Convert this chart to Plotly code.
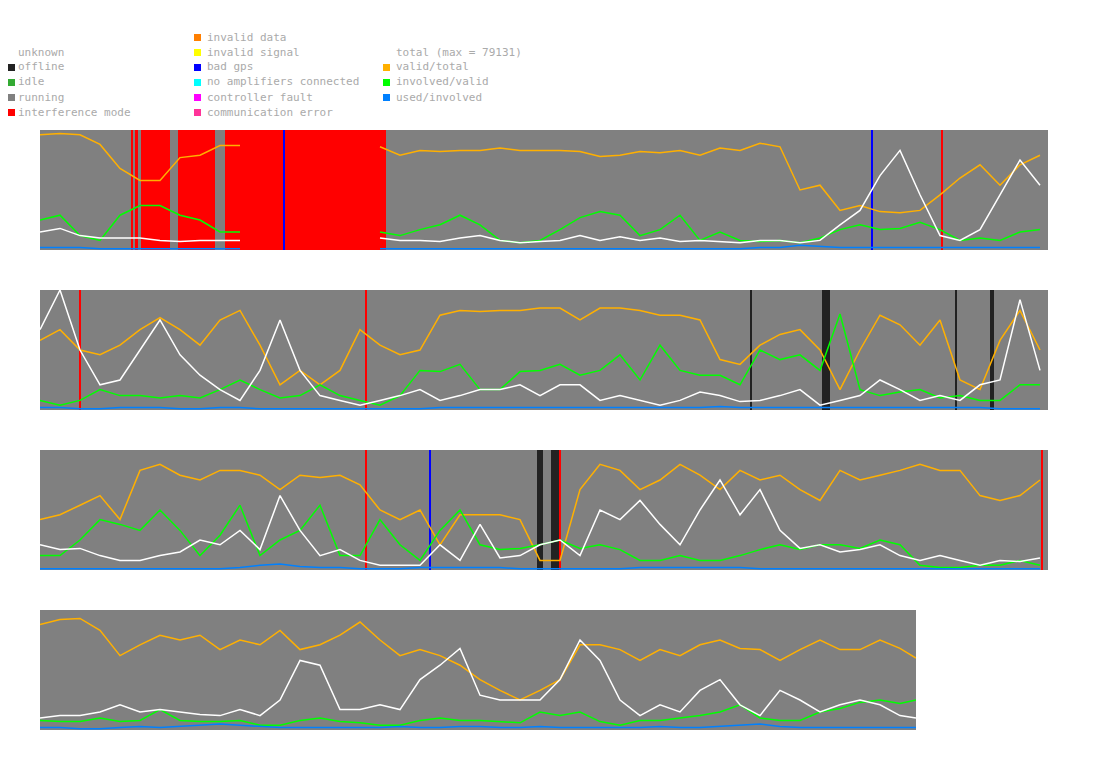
import plotly.graph_objects as go

N = None
# ---- data (time index per row, values in % of row height) ----
t_full = list(range(0, 1020, 20))          # rows 1-3: 51 samples
t_last = list(range(0, 880, 20)) + [876]   # row 4: 45 samples

row1_orange = [96,97,96,88,68,58,58,77,79,87,87,N,N,N,N,N,N,86,79,83,82,83,83,85,83,83,83,82,78,79,82,81,83,79,85,83,89,86,50,54,33,37,32,31,33,46,60,71,54,71,79]
row1_green  = [25,29,12,8,29,37,37,29,25,15,15,N,N,N,N,N,N,15,12,17,21,29,21,8,6,8,17,27,32,29,12,17,29,8,15,8,7,8,6,10,17,21,17,18,23,17,8,10,8,15,17]
row1_white  = [15,18,12,10,10,10,8,7,8,8,8,N,N,N,N,N,N,10,8,8,7,10,12,8,6,7,8,12,8,11,8,10,7,8,7,6,8,8,6,8,21,33,62,83,46,12,8,17,46,75,54]
row1_blue   = [2,2,2,1,1,1,1,1,1,1,1,N,N,N,N,N,N,1,1,1,1,1,1,1,1,1,1,1,1,1,1,1,1,1,1,1,2,2,4,3,2,2,2,2,2,2,2,2,2,2,2]

row2_orange = [58,67,50,46,54,67,77,67,54,75,83,54,21,33,21,33,67,54,46,50,79,83,82,83,83,85,85,75,85,85,83,79,79,75,42,38,54,63,67,50,17,50,79,71,54,75,25,17,58,83,50]
row2_white  = [67,100,50,21,25,50,75,46,29,17,8,33,75,33,12,8,4,8,12,17,8,12,17,17,21,12,21,21,8,12,8,4,8,15,12,7,8,12,17,4,8,12,25,17,8,12,8,21,25,92,33]
row2_green  = [8,4,8,17,12,12,10,12,10,17,25,17,10,12,21,12,8,4,12,33,32,38,17,17,32,33,38,29,33,46,25,54,33,29,29,21,50,42,46,33,80,17,12,15,17,10,12,8,8,21,21]
row2_blue   = [2,2,1,1,2,2,2,1,1,2,2,1,1,1,1,1,1,1,1,1,2,2,2,2,2,2,2,2,2,2,2,2,2,2,3,2,2,2,2,2,2,2,2,2,2,2,2,2,1,1,1]

row3_orange = [42,46,54,62,42,83,88,79,75,83,83,79,67,79,77,79,71,50,42,50,21,46,46,46,42,8,8,67,88,83,67,75,88,79,67,83,75,79,67,58,83,75,79,83,88,83,83,62,58,62,75]
row3_white  = [21,17,18,12,8,8,12,15,25,21,33,17,62,33,12,17,8,4,4,4,21,8,38,10,12,21,25,12,50,42,58,38,21,50,75,46,67,33,18,21,15,17,21,12,8,12,8,4,8,7,10]
row3_green  = [12,12,25,42,38,33,50,33,12,29,54,12,25,33,54,12,12,42,21,8,33,50,21,17,18,21,25,18,21,17,8,8,12,8,8,12,17,21,17,21,21,18,25,21,4,2,2,4,4,8,4]
row3_blue   = [1,1,1,1,1,1,1,1,1,1,2,4,5,3,2,2,1,1,1,2,2,2,2,2,1,1,1,1,1,1,2,2,2,2,2,2,1,1,1,1,1,1,1,1,1,1,1,1,1,1,1]

row4_orange = [88,92,93,83,62,71,79,75,79,67,75,71,83,67,71,79,90,75,62,67,62,54,42,33,25,33,42,71,71,67,58,67,62,71,75,68,67,58,67,75,67,67,75,68,60]
row4_white  = [10,12,12,15,21,15,17,15,13,12,17,12,25,58,54,17,17,21,17,42,54,68,29,25,25,25,42,75,58,25,12,21,15,33,42,21,12,33,25,15,21,25,21,12,10]
row4_green  = [8,7,7,10,7,8,17,8,7,7,8,4,4,8,10,7,6,4,4,8,10,8,8,7,6,15,12,15,7,4,8,8,10,12,15,21,10,8,8,15,18,23,25,22,25]
row4_blue   = [2,2,1,1,2,3,2,3,4,5,4,3,2,2,2,2,2,2,3,2,2,3,3,2,2,3,2,2,2,2,2,3,2,2,3,4,5,3,2,2,2,2,2,2,2]

# status intervals (time index ranges)
red_iv   = [[(91,93),(95,98),(101,130),(138,175),(185,346),(901,903)],
            [(39,41),(325,327)],
            [(325,327),(519,521),(1001,1003)],
            []]
black_iv = [[], [(710,712),(782,790),(915,917),(950,954)], [(497,503),(511,519)], []]
blue_iv  = [[(243,245),(831,833)], [], [(389,391)], []]

rows = [
    (t_full, row1_orange, row1_green, row1_white, row1_blue),
    (t_full, row2_orange, row2_green, row2_white, row2_blue),
    (t_full, row3_orange, row3_green, row3_white, row3_blue),
    (t_last, row4_orange, row4_green, row4_white, row4_blue),
]

OFF = 8  # page body margin
W, H = 1095 - 2 * OFF, 764 - 2 * OFF
ytops = [130, 290, 450, 610]
fig = go.Figure()
shapes = []
for i, (t, o, g, w, b) in enumerate(rows):
    ax = '' if i == 0 else str(i + 1)
    for vals, col in [(o, '#ffb000'), (g, '#00ff00'), (w, '#ffffff'), (b, '#0080ff')]:
        fig.add_trace(go.Scatter(x=t, y=vals, mode='lines', line=dict(color=col, width=1.5),
                                 xaxis='x' + ax, yaxis='y' + ax, showlegend=False, hoverinfo='skip'))
    xend = 876 if i == 3 else 1008
    top = ytops[i] - OFF
    fig.layout['xaxis' + ax] = dict(domain=[(40 - OFF) / W, (40 - OFF + xend) / W], range=[0, xend],
                                    visible=False, anchor='y' + ax)
    fig.layout['yaxis' + ax] = dict(domain=[1 - (top + 120) / H, 1 - top / H], range=[0, 100], visible=False,
                                    anchor='x' + ax)
    for ivs, col in [(red_iv[i], '#ff0000'), (black_iv[i], '#222222'), (blue_iv[i], '#0000ff')]:
        for a, bb in ivs:
            shapes.append(dict(type='rect', xref='x' + ax, yref='y' + ax + ' domain', x0=a, x1=bb, y0=0, y1=1,
                               fillcolor=col, line=dict(width=0), layer='below'))

legend_cols = [
    (18, [("unknown", None), ("offline", '#222222'), ("idle", '#33aa33'), ("running", '#808080'),
          ("interference mode", '#ff0000')], 52),
    (207, [("invalid data", '#ff7f00'), ("invalid signal", '#ffff00'), ("bad gps", '#0000ff'),
           ("no amplifiers connected", '#00ffff'), ("controller fault", '#ff00ff'),
           ("communication error", '#ff3399')], 37),
    (396, [("total (max = 79131)", None), ("valid/total", '#ffb000'), ("involved/valid", '#00ff00'),
           ("used/involved", '#0080ff')], 52),
]
annots = []
for x, items, y0 in legend_cols:
    for k, (txt, col) in enumerate(items):
        y = y0 + 15 * k - OFF
        xx = x - OFF
        annots.append(dict(x=(xx - 2) / W, y=1 - y / H, xref='paper', yref='paper', text=txt, showarrow=False,
                           xanchor='left', yanchor='middle',
                           font=dict(family='DejaVu Sans Mono', size=11, color='#aaaaaa')))
        if col:
            x0 = max(xx - 13, 0)
            shapes.append(dict(type='rect', xref='paper', yref='paper', x0=x0 / W, x1=(x0 + 7) / W,
                               y0=1 - (y + 4) / H, y1=1 - (y - 3) / H, fillcolor=col, line=dict(width=0)))

fig.update_layout(width=W, height=H, margin=dict(l=0, r=0, t=0, b=0), plot_bgcolor='#808080',
                  paper_bgcolor='#ffffff', shapes=shapes, annotations=annots)
fig.write_html("out.html")
